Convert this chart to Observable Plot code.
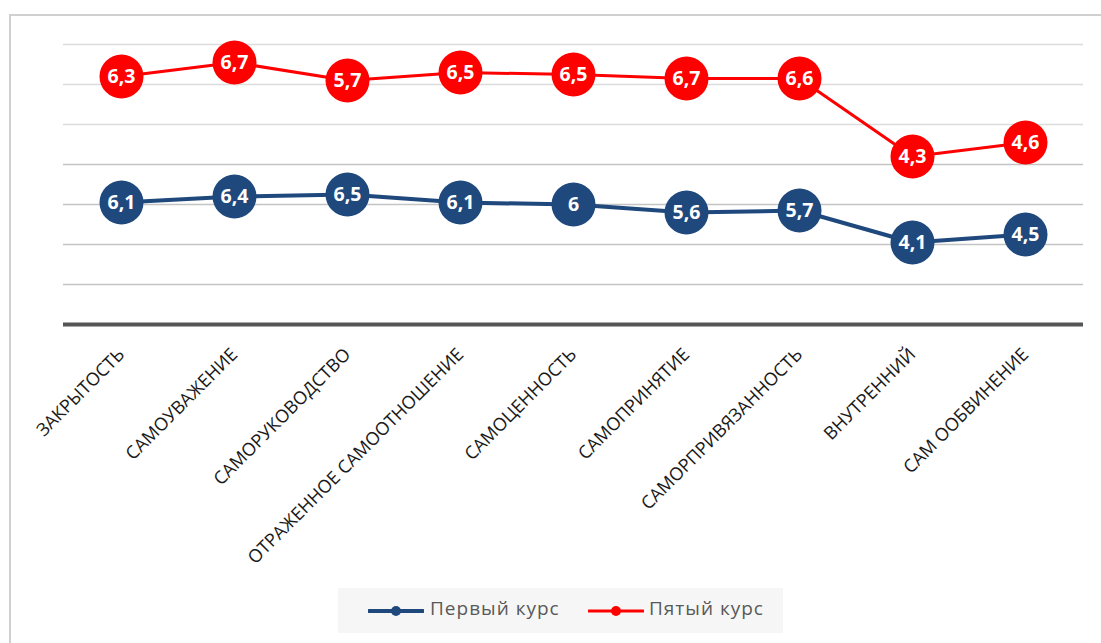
<!DOCTYPE html>
<html>
<head>
<meta charset="utf-8">
<script src="https://cdn.jsdelivr.net/npm/d3@7"></script>
<script src="https://cdn.jsdelivr.net/npm/@observablehq/plot@0.6"></script>
<style>
  html, body { margin: 0; padding: 0; background: #fff; }
  body { width: 1101px; height: 643px; overflow: hidden; position: relative; font-family: "Open Sans", sans-serif; }
  #frame { position: absolute; left: 9px; top: 14px; width: 1200px; height: 800px; border: 2px solid #d0d0d0; box-sizing: border-box; }
  #chart { position: absolute; left: 0; top: 0; }
  #legend { position: absolute; left: 338px; top: 588px; width: 445px; height: 45px; background: #f6f6f6; }
  .sw { position: absolute; top: 16px; }
  .lt { position: absolute; top: 7px; font-size: 19px; color: #595959; letter-spacing: 1px; line-height: 26px; white-space: nowrap; }
</style>
</head>
<body>
<div id="frame"></div>
<div id="chart"></div>
<div id="legend"></div>
<script>
const categories = ["ЗАКРЫТОСТЬ", "САМОУВАЖЕНИЕ", "САМОРУКОВОДСТВО", "ОТРАЖЕННОЕ САМООТНОШЕНИЕ", "САМОЦЕННОСТЬ", "САМОПРИНЯТИЕ", "САМОРПРИВЯЗАННОСТЬ", "ВНУТРЕННИЙ", "САМ ООБВИНЕНИЕ"];
const firstCourse = [6.1, 6.4, 6.5, 6.1, 6, 5.6, 5.7, 4.1, 4.5];
const fifthCourse = [6.3, 6.7, 5.7, 6.5, 6.5, 6.7, 6.6, 4.3, 4.6];
const seriesNames = ["Первый курс", "Пятый курс"];
const seriesColors = ["#1f497d", "#ff0000"];
const seriesWidths = [4, 3];
const gridValues = [2, 4, 6, 8, 10, 12, 14];

const seriesValues = [firstCourse, fifthCourse];
const rows = [];
seriesNames.forEach((s, i) => {
  categories.forEach((c, j) => rows.push({cat: c, series: s, value: seriesValues[i][j]}));
});
const fmt = v => String(v).replace(".", ",");

const chart = Plot.plot({
  width: 1101,
  height: 580,
  marginLeft: 63,
  marginRight: 18,
  marginTop: 44,
  marginBottom: 256,
  x: {type: "point", domain: categories, padding: 0.5, axis: null},
  y: {domain: [0, 14], axis: null},
  color: {domain: seriesNames, range: seriesColors},
  style: {background: "transparent", fontFamily: "Open Sans, sans-serif"},
  marks: [
    Plot.ruleY(gridValues, {stroke: d => d >= 10 ? "#dcdcdc" : "#c4c4c4", strokeWidth: 1.3}),
    Plot.ruleY([0], {stroke: "#555555", strokeWidth: 4}),
    Plot.lineY(rows, Plot.stackY2({
      x: "cat", y: "value", z: "series", stroke: "series",
      strokeWidth: d => seriesWidths[seriesNames.indexOf(d.series)]
    })),
    Plot.dot(rows, Plot.stackY2({x: "cat", y: "value", z: "series", fill: "series", r: 22})),
    Plot.text(rows, Plot.stackY2({
      x: "cat", y: "value", z: "series", text: d => fmt(d.value),
      fill: "white", fontWeight: "bold", fontSize: 19.5
    })),
    Plot.text(categories, {
      x: d => d, frameAnchor: "bottom", rotate: -45, textAnchor: "end", lineAnchor: "middle",
      dx: 0, dy: 27, fontSize: 18, fill: "#1a1a1a", ariaLabel: "xlabels"
    })
  ]
});
document.getElementById("chart").appendChild(chart);
const xl = chart.querySelector('g[aria-label="xlabels"]');
if (xl) xl.style.letterSpacing = "2.6px";

const legend = document.getElementById("legend");
const swLeft = [30, 250], txLeft = [92, 311];
seriesNames.forEach((s, i) => {
  const sw = document.createElementNS("http://www.w3.org/2000/svg", "svg");
  sw.setAttribute("width", 56); sw.setAttribute("height", 14);
  sw.setAttribute("class", "sw");
  sw.style.left = swLeft[i] + "px";
  sw.innerHTML = `<line x1="1" x2="55" y1="7" y2="7" stroke="${seriesColors[i]}" stroke-width="${seriesWidths[i]}" stroke-linecap="round"/><circle cx="28" cy="7" r="5" fill="${seriesColors[i]}"/>`;
  legend.appendChild(sw);
  const t = document.createElement("div");
  t.className = "lt";
  t.style.left = txLeft[i] + "px";
  t.textContent = s;
  legend.appendChild(t);
});
</script>
</body>
</html>
